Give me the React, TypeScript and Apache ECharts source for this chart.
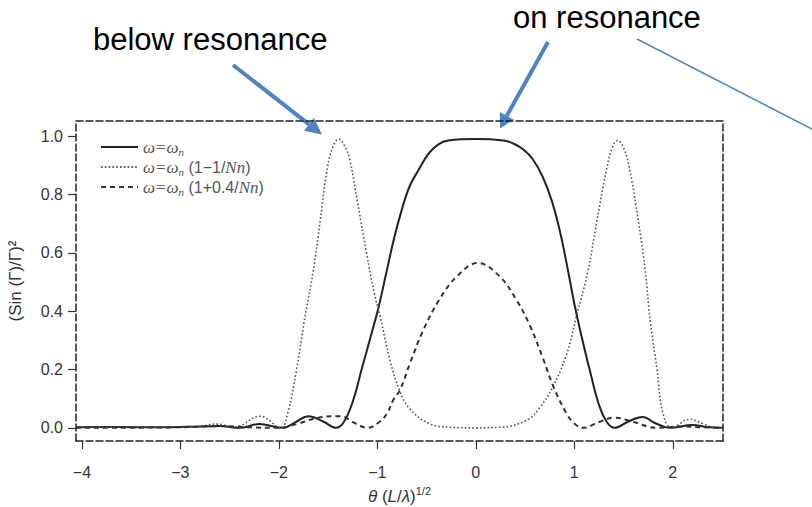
import React, { useEffect, useRef } from 'react';
import * as echarts from 'echarts';

const xTicks = [-4, -3, -2, -1, 0, 1, 2];
const yTicks = [0, 0.2, 0.4, 0.6, 0.8, 1.0];
const seriesNames = ['ω=ωn', 'ω=ωn (1−1/Nn)', 'ω=ωn (1+0.4/Nn)'];

const onResonance: [number, number][] = [
  [-4.06, 0.002], [-3.6, 0.003], [-3.2, 0.002], [-2.9, 0.004], [-2.6, 0.006], [-2.4, 0.0],
  [-2.2, 0.013], [-1.96, 0.0], [-1.83, 0.02], [-1.7, 0.04], [-1.55, 0.022], [-1.42, 0.0],
  [-1.34, 0.02], [-1.25, 0.09], [-1.16, 0.2], [-1.07, 0.31], [-0.99, 0.41], [-0.91, 0.53],
  [-0.83, 0.65], [-0.75, 0.75], [-0.67, 0.83], [-0.58, 0.885], [-0.48, 0.94], [-0.38, 0.972],
  [-0.28, 0.985], [0, 0.99], [0.28, 0.985], [0.38, 0.975], [0.48, 0.955], [0.58, 0.92],
  [0.68, 0.86], [0.77, 0.78], [0.85, 0.68], [0.93, 0.55], [1.01, 0.41], [1.09, 0.29],
  [1.17, 0.18], [1.25, 0.08], [1.33, 0.02], [1.41, 0.0], [1.55, 0.022], [1.69, 0.037],
  [1.83, 0.015], [1.97, 0.0], [2.2, 0.01], [2.35, 0.003], [2.51, 0.0],
];

const belowResonance: [number, number][] = [
  [-4.06, 0.002], [-3.5, 0.003], [-3.0, 0.004], [-2.8, 0.006], [-2.63, 0.013], [-2.45, 0.003],
  [-2.19, 0.04], [-1.98, 0.0], [-1.91, 0.05], [-1.82, 0.2], [-1.74, 0.37], [-1.65, 0.54],
  [-1.58, 0.71], [-1.51, 0.886], [-1.45, 0.965], [-1.39, 0.99], [-1.33, 0.965], [-1.28, 0.92],
  [-1.2, 0.77], [-1.11, 0.6], [-1.03, 0.46], [-0.97, 0.38], [-0.87, 0.23], [-0.77, 0.125],
  [-0.67, 0.065], [-0.47, 0.014], [-0.25, 0.002], [0, 0.0], [0.25, 0.002], [0.52, 0.027],
  [0.65, 0.07], [0.78, 0.14], [0.92, 0.25], [1.02, 0.38], [1.14, 0.54], [1.23, 0.71],
  [1.33, 0.89], [1.39, 0.965], [1.44, 0.985], [1.5, 0.96], [1.56, 0.89], [1.65, 0.71],
  [1.72, 0.54], [1.77, 0.37], [1.84, 0.2], [1.9, 0.05], [1.99, 0.0], [2.17, 0.03],
  [2.3, 0.015], [2.45, 0.0], [2.51, 0.0],
];

const aboveResonance: [number, number][] = [
  [-4.06, 0.0], [-3.0, 0.002], [-2.6, 0.006], [-2.3, 0.002], [-2.0, 0.0], [-1.8, 0.015],
  [-1.6, 0.035], [-1.38, 0.04], [-1.22, 0.015], [-1.1, 0.0], [-0.98, 0.02], [-0.9, 0.05],
  [-0.84, 0.095], [-0.77, 0.13], [-0.67, 0.22], [-0.54, 0.33], [-0.37, 0.44], [-0.19, 0.52],
  [0.02, 0.565], [0.24, 0.52], [0.41, 0.44], [0.55, 0.35], [0.68, 0.24], [0.79, 0.14],
  [0.92, 0.05], [1.0, 0.015], [1.09, 0.0], [1.25, 0.02], [1.41, 0.035], [1.6, 0.02],
  [1.84, 0.0], [2.1, 0.005], [2.3, 0.002], [2.51, 0.0],
];

const X_MIN = -4.06;
const X_MAX = 2.51;
const Y_MIN = -0.045;
const Y_MAX = 1.052;

const legendRich: Record<string, string> = {
  [seriesNames[0]]: '{w|ω=ω}{s|n}',
  [seriesNames[1]]: '{w|ω=ω}{s|n}{t| (1−1/}{w|Nn}{t|)}',
  [seriesNames[2]]: '{w|ω=ω}{s|n}{t| (1+0.4/}{w|Nn}{t|)}',
};

const frameLine = { show: true, onZero: false, lineStyle: { color: '#222', width: 1.5, type: [7, 3] as number[] } };
const BLUE = '#4f84c4';

export default function App() {
  const ref = useRef<HTMLDivElement>(null);
  useEffect(() => {
    if (!ref.current) return;
    const chart = echarts.init(ref.current, undefined, { renderer: 'svg' });
    chart.setOption({
      animation: false,
      backgroundColor: '#ffffff',
      grid: { left: 76, top: 121, right: 89, bottom: 66, containLabel: false, outerBoundsMode: 'none' },
      legend: {
        orient: 'vertical',
        left: 95,
        top: 132,
        itemWidth: 37,
        itemHeight: 12,
        itemGap: 0,
        data: seriesNames,
        itemStyle: { opacity: 0 },
        formatter: (name: string) => legendRich[name],
        textStyle: {
          color: '#555',
          fontSize: 16,
          lineHeight: 20,
          rich: {
            w: { fontFamily: 'Liberation Serif', fontStyle: 'italic', fontSize: 17, color: '#555', lineHeight: 20 },
            s: { fontFamily: 'Liberation Serif', fontStyle: 'italic', fontSize: 11, color: '#555', lineHeight: 11, verticalAlign: 'bottom' },
            t: { fontFamily: 'Liberation Sans', fontSize: 16, color: '#555', lineHeight: 20 },
          },
        },
      },
      xAxis: [
        {
          type: 'value',
          min: X_MIN,
          max: X_MAX,
          position: 'bottom',
          axisLine: frameLine,
          axisTick: { show: true, inside: false, length: 8, customValues: xTicks, lineStyle: { color: '#333', width: 1.2 } },
          axisLabel: {
            show: true,
            customValues: xTicks,
            margin: 23,
            color: '#333',
            fontSize: 16,
            fontFamily: 'Liberation Sans',
            formatter: (v: number) => (v < 0 ? '−' + Math.abs(v) : String(v)),
          },
          splitLine: { show: false },
          name: '{i|θ} ({i|L}/{i|λ}){sup|1/2}',
          nameLocation: 'middle',
          nameGap: 44,
          nameTextStyle: {
            color: '#333',
            fontSize: 17,
            fontFamily: 'Liberation Sans',
            lineHeight: 22,
            rich: {
              i: { fontStyle: 'italic', fontSize: 17, color: '#333', lineHeight: 22, fontFamily: 'Liberation Sans' },
              sup: { fontSize: 11, color: '#333', lineHeight: 11, verticalAlign: 'top', fontFamily: 'Liberation Sans' },
            },
          },
        },
        {
          type: 'value',
          min: X_MIN,
          max: X_MAX,
          position: 'top',
          axisLine: frameLine,
          axisTick: { show: false },
          axisLabel: { show: false },
          splitLine: { show: false },
        },
      ],
      yAxis: [
        {
          type: 'value',
          min: Y_MIN,
          max: Y_MAX,
          position: 'left',
          axisLine: frameLine,
          axisTick: { show: true, inside: false, length: 8, customValues: yTicks, lineStyle: { color: '#333', width: 1.2 } },
          axisLabel: {
            show: true,
            customValues: yTicks,
            margin: 13,
            color: '#333',
            fontSize: 16,
            fontFamily: 'Liberation Sans',
            formatter: (v: number) => v.toFixed(1),
          },
          splitLine: { show: false },
          name: '(Sin (Γ)/Γ)²',
          nameLocation: 'middle',
          nameGap: 52,
          nameTextStyle: { color: '#333', fontSize: 17, fontFamily: 'Liberation Sans' },
        },
        {
          type: 'value',
          min: Y_MIN,
          max: Y_MAX,
          position: 'right',
          axisLine: frameLine,
          axisTick: { show: false },
          axisLabel: { show: false },
          splitLine: { show: false },
        },
      ],
      series: [
        {
          name: seriesNames[0],
          type: 'line',
          data: onResonance,
          smooth: 0.4,
          symbol: 'none',
          lineStyle: { color: '#222', width: 2, type: 'solid' },
          itemStyle: { color: '#222' },
        },
        {
          name: seriesNames[1],
          type: 'line',
          data: belowResonance,
          smooth: 0.4,
          symbol: 'none',
          lineStyle: { color: '#555', width: 1.6, type: [1.6, 2.2] },
          itemStyle: { color: '#555' },
        },
        {
          name: seriesNames[2],
          type: 'line',
          data: aboveResonance,
          smooth: 0.4,
          symbol: 'none',
          lineStyle: { color: '#333', width: 2, type: [5, 4] },
          itemStyle: { color: '#333' },
        },
      ],
      graphic: [
        {
          type: 'text',
          left: 93,
          top: 24,
          style: { text: 'below resonance', fill: '#000', font: '31px "Liberation Sans"' },
        },
        {
          type: 'text',
          left: 513,
          top: 2,
          style: { text: 'on resonance', fill: '#000', font: '31px "Liberation Sans"' },
        },
        {
          type: 'line',
          shape: { x1: 233, y1: 65, x2: 309, y2: 124.4 },
          style: { stroke: BLUE, lineWidth: 4 },
        },
        {
          type: 'polygon',
          shape: { points: [[322, 134.5], [304.1, 130.7], [313.9, 118.1]] },
          style: { fill: BLUE },
        },
        {
          type: 'line',
          shape: { x1: 548, y1: 42, x2: 506.8, y2: 115.8 },
          style: { stroke: BLUE, lineWidth: 4 },
        },
        {
          type: 'polygon',
          shape: { points: [[500, 128.5], [499.8, 111.9], [513.8, 119.7]] },
          style: { fill: BLUE },
        },
        {
          type: 'line',
          shape: { x1: 637, y1: 39, x2: 812, y2: 129 },
          style: { stroke: BLUE, lineWidth: 1.5 },
        },
      ],
    });
    return () => chart.dispose();
  }, []);
  return (
    <div
      ref={ref}
      style={{ position: 'fixed', left: 0, top: 0, width: 812, height: 507 }}
    />
  );
}
